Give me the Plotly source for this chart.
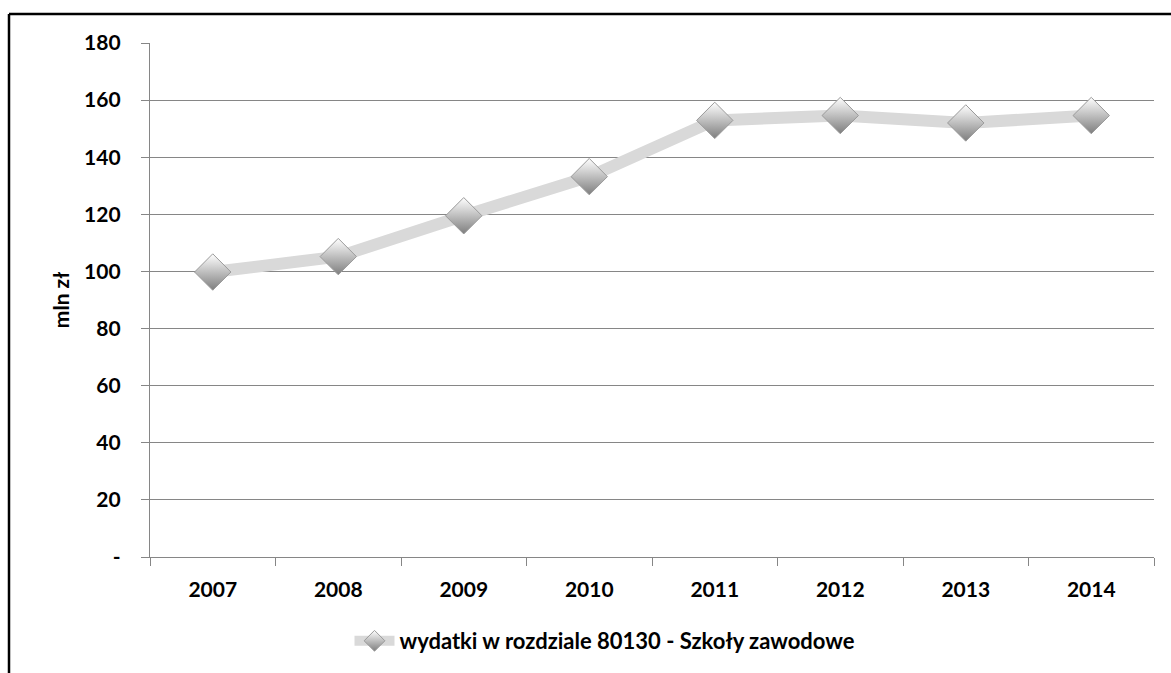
import plotly.graph_objects as go

years = ["2007", "2008", "2009", "2010", "2011", "2012", "2013", "2014"]
values = [99.8, 105.2, 119.5, 133.2, 152.9, 154.6, 152.0, 154.6]
series_name = "wydatki w rozdziale 80130 - Szkoły zawodowe"
y_tickvals = [0, 20, 40, 60, 80, 100, 120, 140, 160, 180]
y_ticktext = ["-", "20", "40", "60", "80", "100", "120", "140", "160", "180"]

FONT = "Lato"
W, H = 1171, 673
L, R, T, B = 150, 17, 43, 116

fig = go.Figure()
fig.add_trace(go.Scatter(
    x=years, y=values, mode="lines+markers", name=series_name,
    line=dict(color="#d9d9d9", width=12),
    marker=dict(symbol="diamond", size=28, color="#ffffff",
                gradient=dict(type="vertical", color="#7e7e7e"),
                line=dict(color="#9a9a9a", width=1)),
))

pw = W - L - R
ph = H - T - B
fig.update_layout(
    width=W, height=H,
    margin=dict(l=L, r=R, t=T, b=B),
    paper_bgcolor="white", plot_bgcolor="white",
    font=dict(family=FONT, size=21, color="black"),
    showlegend=True,
    legend=dict(orientation="h", xref="container", yref="container",
                x=605 / W, xanchor="center", y=1 - 641 / H, yanchor="middle",
                font=dict(family=FONT, size=22, color="black", weight="bold"),
                itemwidth=40),
    xaxis=dict(type="category", range=[-0.5, len(years) - 0.5],
               showgrid=False, showline=True,
               linecolor="#868686", linewidth=1.3,
               ticks="outside", tickson="boundaries", ticklen=8,
               tickcolor="#868686", tickwidth=1.3,
               tickfont=dict(family=FONT, size=21, color="black", weight="bold"),
               ticklabelstandoff=14),
    yaxis=dict(range=[0, 180], tickvals=y_tickvals, ticktext=y_ticktext,
               showgrid=True, gridcolor="#868686", gridwidth=1.4,
               showline=True, linecolor="#868686", linewidth=1.3,
               zeroline=False,
               ticks="outside", ticklen=8, tickcolor="#868686", tickwidth=1.3,
               tickfont=dict(family=FONT, size=21, color="black", weight="bold"),
               ticklabelstandoff=16,
               title=dict(text="mln zł", standoff=8,
                          font=dict(family=FONT, size=21, color="black", weight="bold"))),
)

# outer chart border (top and left edges visible; right/bottom beyond the view)
fig.add_shape(type="line", xref="paper", yref="paper",
              x0=(9 - L) / pw, x1=(W + 5 - L) / pw,
              y0=1 + (T - 14) / ph, y1=1 + (T - 14) / ph,
              line=dict(color="black", width=2.5))
fig.add_shape(type="line", xref="paper", yref="paper",
              x0=(9 - L) / pw, x1=(9 - L) / pw,
              y0=1 + (T - 14) / ph, y1=-(B + 5) / ph,
              line=dict(color="black", width=2.5))

fig.write_html("out.html")
